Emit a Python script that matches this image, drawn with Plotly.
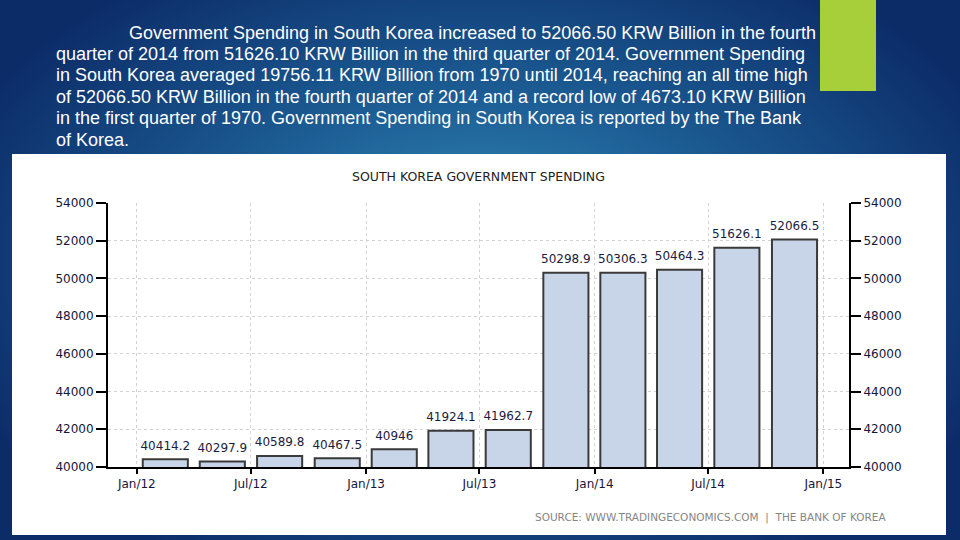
"""South Korea government spending, quarterly bars on a slide background."""

import base64

import plotly.graph_objects as go

quarters = [
    "2012-01", "2012-04", "2012-07", "2012-10",
    "2013-01", "2013-04", "2013-07", "2013-10",
    "2014-01", "2014-04", "2014-07", "2014-10",
]
spending = [
    40414.2, 40297.9, 40589.8, 40467.5,
    40946.0, 41924.1, 41962.7, 50298.9,
    50306.3, 50464.3, 51626.1, 52066.5,
]
tick_dates = ["2012-01-01", "2012-07-01", "2013-01-01", "2013-07-01",
              "2014-01-01", "2014-07-01", "2015-01-01"]
y_ticks = [40000, 42000, 44000, 46000, 48000, 50000, 52000, 54000]

chart_title = "SOUTH KOREA GOVERNMENT SPENDING"
source_text = "SOURCE: WWW.TRADINGECONOMICS.COM  |  THE BANK OF KOREA"
paragraph = [
    "Government Spending in South Korea increased to 52066.50 KRW Billion in the fourth",
    "quarter of 2014 from 51626.10 KRW Billion in the third quarter of 2014. Government Spending",
    "in South Korea averaged 19756.11 KRW Billion from 1970 until 2014, reaching an all time high",
    "of 52066.50 KRW Billion in the fourth quarter of 2014 and a record low of 4673.10 KRW Billion",
    "in the first quarter of 1970. Government Spending in South Korea is reported by the The Bank",
    "of Korea.",
]

W, H = 960, 540
L, R, T, B = 108, 849, 203, 467  # plot area in pixels


def px(x):
    return (x - L) / (R - L)


def py(y):
    return (B - y) / (B - T)


bg_svg = f"""<svg xmlns='http://www.w3.org/2000/svg' width='{W}' height='{H}'>
<defs><radialGradient id='g' cx='480' cy='260' r='560' gradientUnits='userSpaceOnUse'
 gradientTransform='translate(480 260) scale(1 0.62) translate(-480 -260)'>
<stop offset='0' stop-color='#3592bd'/><stop offset='0.45' stop-color='#1d5f96'/>
<stop offset='1' stop-color='#0c2c68'/></radialGradient></defs>
<rect width='{W}' height='{H}' fill='#0c2c68'/>
<rect width='{W}' height='{H}' fill='url(#g)'/></svg>"""
bg_uri = "data:image/svg+xml;base64," + base64.b64encode(bg_svg.encode()).decode()

fig = go.Figure()
fig.add_trace(
    go.Bar(
        x=quarters,
        y=spending,
        xperiod="M3",
        xperiodalignment="middle",
        width=72 * 86400000,
        marker=dict(color="#c8d5e8", line=dict(color="#3a3a3a", width=2)),
        showlegend=False,
        hoverinfo="skip",
    )
)
# value labels, drawn on the right-hand axis so that axis is rendered too
fig.add_trace(
    go.Scatter(
        x=quarters,
        y=spending,
        xperiod="M3",
        xperiodalignment="middle",
        yaxis="y2",
        mode="markers+text",
        marker=dict(size=9, opacity=0),
        text=[f"{v:g}" for v in spending],
        textposition="top center",
        textfont=dict(family="DejaVu Sans", size=12, color="#1c1c40"),
        cliponaxis=False,
        showlegend=False,
        hoverinfo="skip",
    )
)

fig.add_layout_image(
    source=bg_uri, xref="paper", yref="paper",
    x=px(0), y=py(0), sizex=px(W) - px(0), sizey=py(0) - py(H),
    xanchor="left", yanchor="top", sizing="stretch", layer="below",
)
fig.add_shape(type="rect", xref="paper", yref="paper", layer="below",
              x0=px(12), x1=px(946), y0=py(535), y1=py(154),
              fillcolor="white", line_width=0)
fig.add_shape(type="rect", xref="paper", yref="paper", layer="below",
              x0=px(820), x1=px(876), y0=py(91), y1=py(-2),
              fillcolor="#a6cf3a", line_width=0)

line_y = [33, 54, 75, 97, 118, 140]
for i, line in enumerate(paragraph):
    fig.add_annotation(
        text=line, xref="paper", yref="paper",
        x=px(127 if i == 0 else 54), y=py(line_y[i]),
        xanchor="left", yanchor="middle", showarrow=False,
        font=dict(family="Liberation Sans", size=18, color="white"),
    )

fig.add_annotation(
    text=chart_title, xref="paper", yref="paper", x=px(478), y=py(176),
    xanchor="center", yanchor="middle", showarrow=False,
    font=dict(family="DejaVu Sans", size=12.5, color="#222222"),
)
fig.add_annotation(
    text=source_text, xref="paper", yref="paper", x=px(888), y=py(517),
    xanchor="right", yanchor="middle", showarrow=False,
    font=dict(family="DejaVu Sans", size=10.5, color="#858585"),
)

axis_font = dict(family="DejaVu Sans", size=12, color="#16163a")
y_common = dict(
    range=[40000, 54000],
    tickvals=y_ticks,
    tickformat="d",
    ticks="outside", ticklen=10, tickwidth=1.5, tickcolor="black",
    tickfont=axis_font,
    showline=True, linecolor="black", linewidth=2,
    zeroline=False,
)
fig.update_layout(
    width=W,
    height=H,
    margin=dict(l=L, r=W - R, t=T, b=H - B),
    paper_bgcolor="#0c2c68",
    plot_bgcolor="white",
    xaxis=dict(
        type="date",
        range=["2011-11-16", "2015-02-11"],
        tickvals=tick_dates,
        tickformat="%b/%y",
        ticks="outside", ticklen=5, tickwidth=1.5, tickcolor="black",
        tickfont=axis_font,
        showline=True, linecolor="black", linewidth=2,
        showgrid=True, gridcolor="#d2d2d2", griddash="dot", gridwidth=1,
        zeroline=False,
    ),
    yaxis=dict(**y_common, showgrid=True, gridcolor="#d2d2d2", griddash="dot"),
    yaxis2=dict(**y_common, overlaying="y", side="right", anchor="x", showgrid=False),
)

fig.write_html(
    "out.html",
    config={"displayModeBar": False},
    post_script="document.body.style.margin = '0';",
)
